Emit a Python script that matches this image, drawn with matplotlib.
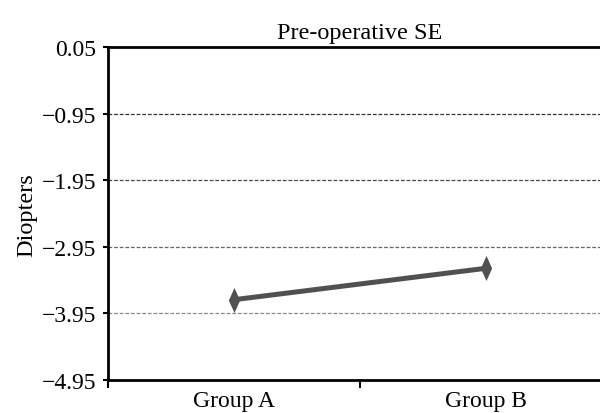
import matplotlib
matplotlib.use("Agg")
import matplotlib.pyplot as plt
import numpy as np

categories = ["Group A", "Group B"]
values = [-3.743, -3.271]
yticks = [0.05, -0.95, -1.95, -2.95, -3.95, -4.95]
ytick_labels = ["0.05", "\u22120.95", "\u22121.95", "\u22122.95", "\u22123.95", "\u22124.95"]
grid_colors = ['#333333', '#444444', '#666666', '#8a8a8a']

plt.rcParams['font.family'] = ['Liberation Serif', 'DejaVu Serif']
plt.rcParams['font.size'] = 17

fig = plt.figure(figsize=(6.0, 4.14), dpi=100)
ax = fig.add_axes([108/600, 1 - 381/414, 504/600, 332.7/414])

diamond = [(0, 1), (0.45, 0), (0, -1), (-0.45, 0), (0, 1)]
x = np.arange(len(categories))
ax.plot(x, values, color='#505050', linewidth=3.6, marker=diamond, markersize=18,
        markeredgewidth=0, zorder=3, clip_on=False)

ax.set_xlim(-0.5, 1.5)
ax.set_ylim(-4.95, 0.05)
ax.set_yticks(yticks)
ax.set_yticklabels(ytick_labels)
ax.set_xticks(x)
ax.set_xticklabels(categories)
ax.set_xticks([-0.5, 0.5], minor=True)
ax.tick_params(axis='x', which='major', length=0, pad=7)
ax.tick_params(axis='x', which='minor', length=5.5, width=1.5, direction='out')
ax.tick_params(axis='y', length=3.5, width=1.5, direction='out', pad=5)

for yv, c in zip(yticks[1:-1], grid_colors):
    ax.axhline(yv, color=c, linestyle=(0, (3, 1.5)), linewidth=0.9, zorder=1)

for s in ['top', 'bottom', 'left']:
    ax.spines[s].set_linewidth(2)
    ax.spines[s].set_color('black')
ax.spines['right'].set_visible(False)

ax.set_title("Pre-operative SE", fontsize=17.5, pad=7)
ax.set_ylabel("Diopters", fontsize=17.5, labelpad=3)

fig.savefig("out.png", dpi=100)
